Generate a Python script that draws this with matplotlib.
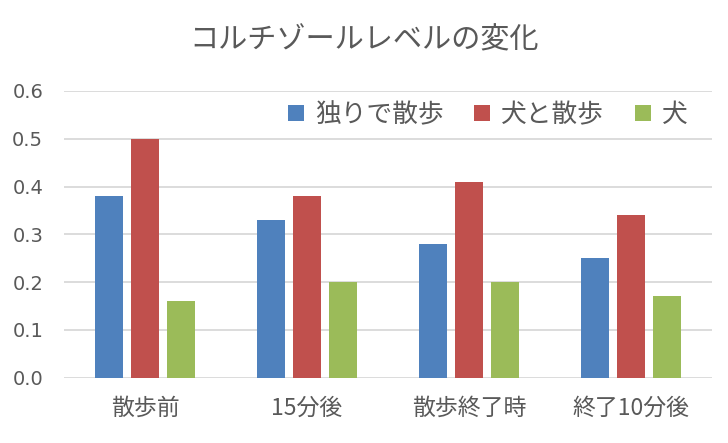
import numpy as np
import matplotlib.pyplot as plt

plt.rcParams['font.family'] = ['Noto Sans CJK JP', 'DejaVu Sans']

categories = ['散歩前', '15分後', '散歩終了時', '終了10分後']
series_names = ['独りで散歩', '犬と散歩', '犬']
alone = [0.38, 0.33, 0.28, 0.25]
with_dog = [0.50, 0.38, 0.41, 0.34]
dog = [0.16, 0.20, 0.20, 0.17]
colors = ['#4F81BD', '#C0504D', '#9BBB59']
text_color = '#595959'

fig = plt.figure(figsize=(7.28, 4.43), dpi=100)
ax = fig.add_axes([0.088, 0.1474, 0.89, 0.6472])

x = np.arange(len(categories))
width = 0.173
step = 0.222
for i, (vals, name) in enumerate(zip([alone, with_dog, dog], series_names)):
    ax.bar(x + (i - 1) * step, vals, width, color=colors[i], label=name, zorder=3)

ax.set_xlim(-0.5, len(categories) - 0.5)
ax.set_ylim(0, 0.6)
yt = np.arange(0, 0.61, 0.1)
ax.set_yticks(yt)
ax.set_yticklabels([f'{v:.1f}' for v in yt], family=['DejaVu Sans'], fontsize=14)
ax.set_xticks(x)
ax.set_xticklabels(categories, fontsize=16.5)
ax.grid(axis='y', color='#D9D9D9', linewidth=1.3, zorder=0)
for s in ax.spines.values():
    s.set_visible(False)
ax.tick_params(axis='both', length=0, colors=text_color)
ax.tick_params(axis='y', pad=15)
ax.tick_params(axis='x', pad=14)

# title centred on the whole figure, as in the original
fig.text(0.5, 1 - 40 / 443, 'コルチゾールレベルの変化', fontsize=21, color=text_color,
         ha='center', va='center')

leg = ax.legend(loc='center right', bbox_to_anchor=(0.962, 0.916), ncol=3, frameon=True,
                fontsize=18.5, handlelength=0.62, handleheight=0.62, handletextpad=0.42,
                columnspacing=1.2, borderaxespad=0, borderpad=0, fancybox=False,
                edgecolor='white')
leg.get_frame().set_facecolor('white')
leg.get_frame().set_alpha(1)
for t in leg.get_texts():
    t.set_color(text_color)

fig.savefig('out.png', dpi=100)
